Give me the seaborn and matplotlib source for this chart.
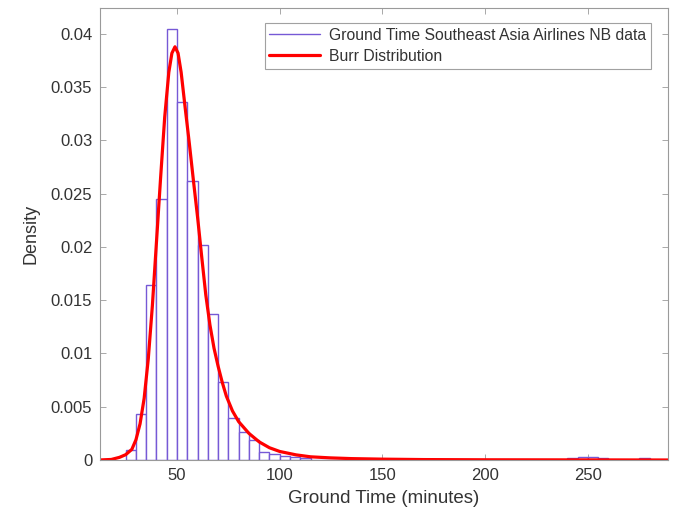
import numpy as np
import pandas as pd
import matplotlib
matplotlib.use("Agg")
import matplotlib.pyplot as plt
import seaborn as sns

# ---- data ----
bin_left = [25, 30, 35, 40, 45, 50, 55, 60, 65, 70, 75, 80, 85, 90, 95, 100, 105, 110,
            240, 245, 250, 255, 275]
bin_density = [0.0009, 0.0043, 0.0164, 0.0245, 0.0405, 0.0336, 0.0262, 0.0202, 0.0137,
               0.0073, 0.0039, 0.0026, 0.0019, 0.00075, 0.00056, 0.0004, 0.0003, 0.0002,
               0.0002, 0.0003, 0.0003, 0.0002, 0.0002]

curve_x = [12, 18, 22, 25, 28, 30, 32, 34, 36, 38, 40, 42, 44, 46, 47.5, 49, 50.5, 52,
           53, 54, 56, 58, 60, 62, 64, 66, 68, 70, 72, 74, 77, 80, 85, 90, 95, 100,
           108, 115, 124.5, 135, 150, 170, 200, 250, 290]
curve_y = [0.0, 0.00005, 0.00025, 0.0005, 0.0010, 0.0019, 0.0034, 0.0058, 0.0095,
           0.0145, 0.0205, 0.0265, 0.0322, 0.0364, 0.0382, 0.0388, 0.0382, 0.0364,
           0.0347, 0.0330, 0.0297, 0.0262, 0.0228, 0.0191, 0.0155, 0.0127, 0.0105,
           0.0088, 0.0073, 0.0060, 0.0046, 0.0036, 0.0025, 0.0017, 0.00115, 0.0008,
           0.00048, 0.0003, 0.0002, 0.00013, 0.00008, 0.00004, 0.00002, 0.00001, 0.0]

x_ticks = [50, 100, 150, 200, 250]
y_ticks = [0, 0.005, 0.01, 0.015, 0.02, 0.025, 0.03, 0.035, 0.04]
y_tick_labels = ["0", "0.005", "0.01", "0.015", "0.02", "0.025", "0.03", "0.035", "0.04"]

hist_label = "Ground Time Southeast Asia Airlines NB data"
curve_label = "Burr Distribution"

# ---- plotting ----
sns.set_style("white")
plt.rcParams['font.family'] = ['Liberation Sans', 'DejaVu Sans']

fig = plt.figure(figsize=(6.82, 5.14), dpi=100)
ax = fig.add_axes([100 / 682, 54 / 514, 568 / 682, 452 / 514])

hist_df = pd.DataFrame({"x": np.array(bin_left, dtype=float) + 2.5,
                        "w": np.array(bin_density, dtype=float)})
purple = "#7659d6"
sns.histplot(data=hist_df, x="x", weights="w", binwidth=5, binrange=(25, 280),
             stat="count", fill=True, facecolor="white", alpha=1.0,
             edgecolor=purple, linewidth=1.0, ax=ax)

curve_df = pd.DataFrame({"x": curve_x, "y": curve_y})
sns.lineplot(data=curve_df, x="x", y="y", color="#ff0000", linewidth=2.3, ax=ax)

ax.set_xlim(12.5, 289)
ax.set_ylim(0, 0.04244)
ax.set_xticks(x_ticks)
ax.set_xticklabels([str(t) for t in x_ticks])
ax.set_yticks(y_ticks)
ax.set_yticklabels(y_tick_labels)

grey = "#333333"
for s in ax.spines.values():
    s.set_visible(True)
    s.set_color("#9a9a9a")
    s.set_linewidth(0.8)
ax.tick_params(direction="in", length=4, width=0.6, colors="#9a9a9a",
               labelcolor=grey, labelsize=12, top=True, right=True,
               bottom=True, left=True)
ax.tick_params(axis="y", pad=5.5)
ax.tick_params(axis="x", pad=5.5)
ax.set_xlabel("Ground Time (minutes)", fontsize=13.5, color=grey, labelpad=5)
ax.set_ylabel("Density", fontsize=13, color=grey, labelpad=8)

handles = [plt.Line2D([], [], color=purple, linewidth=1.0),
           plt.Line2D([], [], color="#ff0000", linewidth=2.3)]
leg = ax.legend(handles, [hist_label, curve_label], loc="upper right",
                bbox_to_anchor=(0.970, 0.967), fontsize=11.3, frameon=True,
                fancybox=False, edgecolor="#8a8a8a", handlelength=3.2,
                handletextpad=0.6, borderpad=0.3, labelspacing=0.4,
                borderaxespad=0.0)
leg.get_frame().set_linewidth(0.8)
for t in leg.get_texts():
    t.set_color(grey)

fig.savefig("out.png", dpi=100)
